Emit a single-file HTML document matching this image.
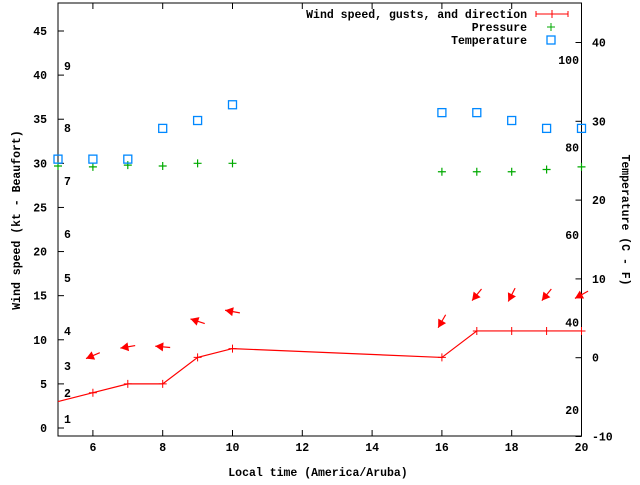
<!DOCTYPE html>
<html><head><meta charset="utf-8"><style>
body{margin:0;background:#fff}
svg text{font-family:"Liberation Mono",monospace;font-weight:bold;font-size:11.5px;fill:#000}
</style></head><body>
<svg id="chart" width="640" height="480" xmlns="http://www.w3.org/2000/svg">
<g id="axes"></g>
<g id="marks"></g>
</svg>
<script>
const hours=[5,6,7,8,9,10,16,17,18,19,20];
const windSpeed=[3,4,5,5,8,9,8,11,11,11,11];
const pressure=[29.7,29.6,29.8,29.7,30.0,30.0,29.05,29.05,29.05,29.3,29.6];
const temperature=[25.2,25.2,25.2,29.1,30.1,32.1,31.1,31.1,30.1,29.1,29.1];
const arrowHours=[6,7,8,9,10,16,17,18,19,20];
const arrowLevel=[8.2,9.2,9.2,12.1,13.2,12.1,15.1,15.1,15.1,15.1];
const windFrom=[67,80,95,108,100,30,39,27,39,61];
const xTicks=[6,8,10,12,14,16,18,20];
const yTicks=[0,5,10,15,20,25,30,35,40,45];
const y2Ticks=[-10,0,10,20,30,40];
const beaufortLabels=[[1,419],[2,393],[3,366],[4,331],[5,278],[6,234],[7,181],[8,128],[9,66]];
const fahrenheitLabels=[20,40,60,80,100];

const L=58,R=581.5,T=3,B=436;
const X=h=>L+(h-5)*(R-L)/15;
const Y=v=>428-v*(428-31)/45;
const Y2=c=>357.7-c*7.88;
const NS='http://www.w3.org/2000/svg';
function mk(tag,attrs,parent,text){const e=document.createElementNS(NS,tag);for(const k in attrs)e.setAttribute(k,attrs[k]);if(text!==undefined)e.textContent=text;parent.appendChild(e);return e;}
const ax=document.getElementById('axes'),mg=document.getElementById('marks');

let f=mk('rect',{x:L,y:T,width:R-L,height:B-T,fill:'none',stroke:'#000','stroke-width':1},ax);

xTicks.forEach(t=>{const x=X(t);
 mk('line',{x1:x,y1:B,x2:x,y2:B-6,stroke:'#000'},ax);mk('line',{x1:x,y1:T,x2:x,y2:T+6,stroke:'#000'},ax);
 const tx=mk('text',{x:x,y:B+15,'text-anchor':'middle'},ax,String(t));
 });
yTicks.forEach(t=>{const y=Y(t);
 mk('line',{x1:L,y1:y,x2:L+6,y2:y,stroke:'#000'},ax);
 const tx=mk('text',{x:47,y:y+4,'text-anchor':'end'},ax,String(t));
 });
y2Ticks.forEach(t=>{const y=Y2(t);
 mk('line',{x1:R,y1:y,x2:R-6,y2:y,stroke:'#000'},ax);
 const tx=mk('text',{x:592,y:y+4},ax,String(t));
 });
beaufortLabels.forEach(b=>{const tx=mk('text',{x:64,y:b[1]+4},ax,String(b[0]));
 });
fahrenheitLabels.forEach(fv=>{const c=(fv-32)*5/9;const tx=mk('text',{x:579,y:Y2(c)+4,'text-anchor':'end'},ax,String(fv));
 });
let t1=mk('text',{x:318,y:476,'text-anchor':'middle'},ax,'Local time (America/Aruba)');

let t2=mk('text',{x:0,y:0,'text-anchor':'middle',transform:'translate(20,220) rotate(-90)'},ax,'Wind speed (kt - Beaufort)');

let t3=mk('text',{x:0,y:0,'text-anchor':'middle',transform:'translate(622,220) rotate(90)'},ax,'Temperature (C - F)');


let lg=mk('g',{},ax);
[['Wind speed, gusts, and direction',14],['Pressure',27],['Temperature',40]].forEach(l=>{
 const tx=mk('text',{x:527,y:l[1]+4,'text-anchor':'end'},lg,l[0]);
 });
mk('path',{d:'M536 14H568M536 11V17M568 11V17M552 10V18',stroke:'#f00',fill:'none'},lg);
mk('path',{d:'M551 23V31M547 27H555',stroke:'#0a0',fill:'none'},lg);
mk('rect',{x:547,y:36,width:8,height:8,fill:'none',stroke:'#08f','stroke-width':1.3},lg);

let p=mk('polyline',{points:hours.map((h,i)=>X(h)+','+Y(windSpeed[i])).join(' '),fill:'none',stroke:'#f00','stroke-width':1.2},mg);

hours.forEach((h,i)=>{if(i===0)return;const x=X(h),y=Y(windSpeed[i]);
 const m=mk('path',{d:`M${x} ${y-4}V${y+4}M${x-4} ${y}H${x+4}`,stroke:'#f00'},mg);
 });
hours.forEach((h,i)=>{const x=X(h),y=Y(pressure[i]);
 const m=mk('path',{d:`M${x} ${y-4}V${y+4}M${x-4} ${y}H${x+4}`,stroke:'#0a0','stroke-width':1.2},mg);
 });
hours.forEach((h,i)=>{const x=X(h),y=Y2(temperature[i]);
 const m=mk('rect',{x:x-4,y:y-4,width:8,height:8,fill:'none',stroke:'#08f','stroke-width':1.3},mg);
 });
arrowHours.forEach((h,i)=>{const cx=X(h),cy=Y(arrowLevel[i]);const a=windFrom[i]*Math.PI/180;
 const ux=Math.sin(a),uy=-Math.cos(a);const len=15;
 const tx=cx+ux*len/2,ty=cy+uy*len/2,hx=cx-ux*len/2,hy=cy-uy*len/2;
 const px=-uy,py=ux;
 const g=mk('g',{},mg);
 mk('line',{x1:tx,y1:ty,x2:hx,y2:hy,stroke:'#f00','stroke-width':1.2},g);
 const bx=hx+ux*8,by=hy+uy*8;
 mk('polygon',{points:`${hx},${hy} ${bx+px*4.5},${by+py*4.5} ${bx-px*4.5},${by-py*4.5}`,fill:'#f00'},g);});
</script>
</body></html>
